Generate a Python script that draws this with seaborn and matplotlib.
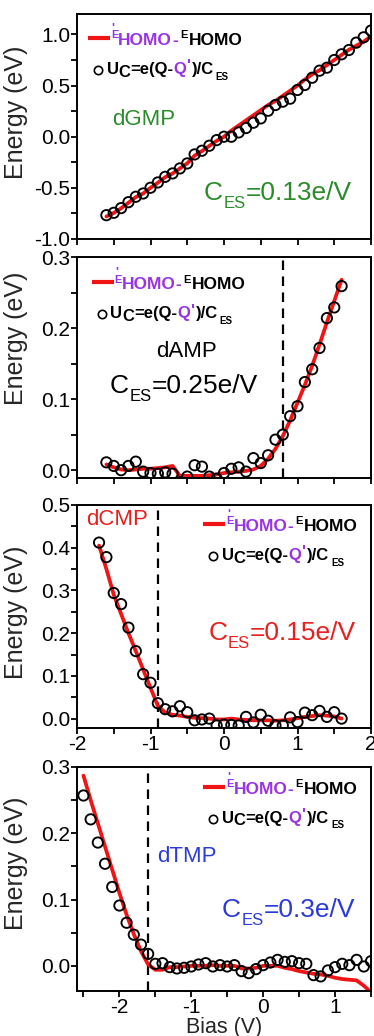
import numpy as np
import matplotlib
matplotlib.use("Agg")
import matplotlib.pyplot as plt
import seaborn as sns
from matplotlib.lines import Line2D
from matplotlib.ticker import MultipleLocator, FuncFormatter
from matplotlib.transforms import offset_copy

# ---------------- data ----------------
# bias grids (V), sampled every 0.1 V
gmp_bias = np.round(np.arange(-1.6, 2.0 + 1e-9, 0.1), 1)
amp_bias = np.round(np.arange(-1.6, 1.6 + 1e-9, 0.1), 1)
cmp_bias = np.round(np.arange(-1.7, 1.6 + 1e-9, 0.1), 1)
tmp_bias = np.round(np.arange(-2.5, 1.5 + 1e-9, 0.1), 1)

# E'HOMO - EHOMO (eV)
gmp_dE = [-0.78, -0.745, -0.70, -0.645, -0.59, -0.555, -0.50, -0.45, -0.395,
          -0.36, -0.31, -0.26, -0.185, -0.14, -0.09, -0.04, 0.0, 0.06, 0.11,
          0.16, 0.21, 0.26, 0.31, 0.35, 0.40, 0.45, 0.50, 0.56, 0.61, 0.65,
          0.70, 0.75, 0.80, 0.85, 0.89, 0.93, 0.98]
amp_dE = [0.008, 0.004, 0.001, 0.000, 0.001, 0.002, 0.002, 0.003, 0.004, 0.006,
          -0.008, -0.008, -0.008, -0.008, -0.007, -0.006, -0.004, -0.003,
          -0.002, -0.001, 0.001, 0.006, 0.016, 0.030, 0.048, 0.070, 0.095,
          0.120, 0.147, 0.177, 0.208, 0.238, 0.268]
cmp_dE = [0.405, 0.35, 0.29, 0.245, 0.20, 0.158, 0.115, 0.072, 0.03, 0.014,
          0.009, 0.007, 0.004, 0.002, 0.001, 0.0, -0.002, -0.002, 0.0, -0.002,
          -0.003, -0.004, -0.004, -0.004, -0.005, -0.004, -0.002, 0.001, 0.004,
          0.006, 0.008, 0.007, 0.005, 0.0]
tmp_dE = [0.287, 0.25, 0.215, 0.18, 0.145, 0.11, 0.077, 0.048, 0.022, 0.002,
          -0.006, -0.006, -0.002, -0.002, -0.001, 0.0, 0.0, 0.0, 0.001, 0.0,
          0.0, 0.0, -0.004, -0.004, -0.003, 0.0, 0.0, 0.0, -0.003, -0.005,
          -0.008, -0.010, -0.012, -0.013, -0.015, -0.018, -0.020, -0.021,
          -0.022, -0.030, -0.040]

# UC = e(Q-Q')/CES (eV)
gmp_uc = [-0.767, -0.744, -0.698, -0.640, -0.587, -0.555, -0.499, -0.447,
          -0.392, -0.359, -0.310, -0.261, -0.173, -0.137, -0.088, -0.033,
          0.000, 0.000, 0.042, 0.085, 0.137, 0.179, 0.254, 0.310, 0.343,
          0.372, 0.457, 0.506, 0.577, 0.646, 0.675, 0.750, 0.806, 0.848,
          0.920, 0.972, 1.038]
amp_uc = [0.011, 0.006, 0.000, 0.006, 0.012, -0.002, -0.004, -0.005, -0.003,
          -0.005, -0.017, -0.009, 0.007, 0.005, -0.009, -0.012, -0.004, 0.002,
          0.004, -0.002, 0.017, 0.010, 0.021, 0.043, 0.050, 0.076, 0.090,
          0.124, 0.142, 0.172, 0.214, 0.229, 0.259]
cmp_uc = [0.412, 0.378, 0.294, 0.268, 0.213, 0.158, 0.104, 0.084, 0.036, 0.022,
          0.017, 0.029, 0.015, -0.004, -0.002, 0.000, -0.016, -0.014, -0.015,
          -0.016, 0.004, -0.009, 0.009, -0.005, -0.016, -0.016, 0.003, -0.008,
          0.014, 0.008, 0.018, 0.004, 0.015, 0.000]
tmp_uc = [0.257, 0.221, 0.186, 0.154, 0.119, 0.091, 0.065, 0.047, 0.032, 0.018,
          0.003, 0.004, -0.002, -0.004, -0.003, -0.001, 0.002, 0.004, -0.001,
          0.001, -0.001, 0.001, -0.008, -0.011, -0.005, 0.001, 0.005, 0.009,
          0.006, 0.007, 0.004, 0.003, -0.014, -0.016, -0.007, -0.002, 0.003,
          0.001, 0.009, -0.001, 0.007]

molecules = ["dGMP", "dAMP", "dCMP", "dTMP"]
ces_labels = ["=0.13e/V", "=0.25e/V", "=0.15e/V", "=0.3e/V"]
threshold_bias = [None, 0.8, -0.9, -1.6]

# ---------------- style ----------------
sns.set_theme(style="ticks")
plt.rcParams["font.family"] = ["Liberation Sans", "DejaVu Sans"]
plt.rcParams["axes.unicode_minus"] = False
plt.rcParams["axes.linewidth"] = 1.4
plt.rcParams["axes.edgecolor"] = "black"

RED = "#f01414"
PURPLE = "#9933e6"
BLACK = "black"
GREEN = "#2a8c2a"
BLUE = "#2b3bd9"
TXT_RED = "#e8201e"
label_colors = [GREEN, BLACK, TXT_RED, BLUE]

fig = plt.figure(figsize=(3.74, 10.36), dpi=100)
W_PX, H_PX = 374, 1036

# panel frames in pixels: (left, top, right, bottom)
frames = [(77, 14, 371, 239), (77, 257, 371, 478),
          (77, 505, 371, 728), (77, 767, 371, 991)]
axes = []
for l, t, r, b in frames:
    axes.append(fig.add_axes([l / W_PX, 1 - b / H_PX, (r - l) / W_PX, (b - t) / H_PX]))

DESC = 0.212  # descent of the font's "lp" box, as a fraction of font size


def rich_text(ax, x, y, pieces, transform):
    """Draw a run of differently styled text pieces sharing one baseline.

    Each piece is (text, size, color, weight, rise_pt, shift_pt)."""
    prev = None
    prev_size = prev_rise = 0.0
    for text, size, color, weight, rise, shift in pieces:
        if prev is None:
            tr = offset_copy(transform, fig=ax.figure, x=shift, y=rise, units="points")
            t = ax.text(x, y, text, transform=tr, fontsize=size, color=color,
                        fontweight=weight, ha="left", va="baseline")
        else:
            dy = rise - prev_rise + DESC * (prev_size - size)
            t = ax.annotate(text, xy=(1, 0), xycoords=prev, xytext=(shift, dy),
                            textcoords="offset points", fontsize=size, color=color,
                            fontweight=weight, ha="left", va="bottom")
        prev, prev_size, prev_rise = t, size, rise
    return prev


def draw_key(ax, x0_px, y0_px, frame):
    """Key with a red line sample and an open-circle sample (pixel anchors)."""
    l, t, r, b = frame
    w, h = r - l, b - t

    def axf(xp, yp):
        return (xp - l) / w, (b - yp) / h

    x1, y1 = axf(x0_px, y0_px)
    x2, _ = axf(x0_px + 22, y0_px)
    ax.add_line(Line2D([x1, x2], [y1, y1], transform=ax.transAxes, color=RED,
                       lw=3.0, solid_capstyle="butt", clip_on=False))
    cx, cy = axf(x0_px + 10, y0_px + 32)
    ax.add_line(Line2D([cx], [cy], transform=ax.transAxes, marker="o", ms=6.0,
                       mfc="none", mec="black", mew=1.2, ls="none", clip_on=False))
    tx, ty = axf(x0_px + 23, y0_px + 6.5)
    rich_text(ax, tx, ty, [
        ("E", 8, PURPLE, "bold", 4.5, 0),
        ("'", 9, PURPLE, "bold", 8.5, -4.8),
        ("HOMO", 12.5, PURPLE, "bold", 0, 2.5),
        ("-", 12.5, PURPLE, "bold", 0, 0),
        ("E", 8, BLACK, "bold", 4.5, 1.5),
        ("HOMO", 12.5, BLACK, "bold", 0, 0.8),
    ], ax.transAxes)
    ux, uy = axf(x0_px + 18.5, y0_px + 36)
    rich_text(ax, ux, uy, [
        ("U", 12, BLACK, "bold", 0, 0),
        ("C", 12, BLACK, "bold", -2.0, 0),
        ("=e(Q-", 12, BLACK, "bold", 0, 0),
        ("Q", 12, PURPLE, "bold", 0, 0),
        ("'", 12, PURPLE, "bold", 2.0, 0.6),
        (")/C", 12, BLACK, "bold", 0, 0.6),
        ("ES", 7, BLACK, "bold", -4.5, 1.2),
    ], ax.transAxes)


series = [(gmp_bias, gmp_dE, gmp_uc), (amp_bias, amp_dE, amp_uc),
          (cmp_bias, cmp_dE, cmp_uc), (tmp_bias, tmp_dE, tmp_uc)]
xlims = [(-2, 2), (-2, 2), (-2, 2), (-2.59, 1.5)]
ylims = [(-1.0, 1.2), (-0.011, 0.3), (-0.022, 0.5), (-0.038, 0.3)]
ysteps = [0.5, 0.1, 0.1, 0.1]
ylabel_y = [0.564, 0.633, 0.52, 0.571]
key_anchor = [(88, 38), (91.7, 282.3), (203.3, 524), (203.3, 786.7)]
name_pos = [(0.118, 0.529), (0.27, 0.571), (0.031, 0.933), (0.272, 0.60)]
ces_pos = [(0.432, 0.173), (0.112, 0.385), (0.447, 0.395), (0.493, 0.332)]

for i, ax in enumerate(axes):
    bias, dE, uc = series[i]
    sns.lineplot(x=bias, y=dE, ax=ax, color=RED, lw=2.7, sort=False,
                 estimator=None, zorder=2)
    sns.scatterplot(x=bias, y=uc, ax=ax, marker="o", s=55, facecolors="none",
                    edgecolor="black", linewidth=1.35, zorder=3)
    if threshold_bias[i] is not None:
        ax.axvline(threshold_bias[i], color="black", lw=1.6,
                   ls=(0, (4.3, 2.9)), zorder=1)

    ax.set_xlim(*xlims[i])
    ax.set_ylim(*ylims[i])
    ax.xaxis.set_major_locator(MultipleLocator(1))
    ax.xaxis.set_minor_locator(MultipleLocator(0.5))
    ax.yaxis.set_major_locator(MultipleLocator(ysteps[i]))
    ax.yaxis.set_minor_locator(MultipleLocator(ysteps[i] / 2))
    ax.yaxis.set_major_formatter(FuncFormatter(lambda v, p: f"{v + 0:.1f}"))
    ax.xaxis.set_major_formatter(FuncFormatter(lambda v, p: f"{v + 0:g}"))
    ax.tick_params(which="both", direction="out", width=1.3, length=4,
                   top=False, right=False, labelsize=15, pad=1, colors="black")
    if i < 2:
        ax.tick_params(axis="x", labelbottom=False)
    for sp in ax.spines.values():
        sp.set_visible(True)
        sp.set_linewidth(1.4)
        sp.set_color("black")

    ax.set_ylabel("Energy (eV)", fontsize=18, labelpad=2)
    ax.yaxis.set_label_coords(-0.167, ylabel_y[i])
    ax.set_xlabel("")

    ax.text(name_pos[i][0], name_pos[i][1], molecules[i], transform=ax.transAxes,
            fontsize=16, color=label_colors[i], ha="left", va="center")
    rich_text(ax, ces_pos[i][0], ces_pos[i][1], [
        ("C", 19, label_colors[i], "normal", 0, 0),
        ("ES", 12, label_colors[i], "normal", -6.0, 0.5),
        (ces_labels[i], 19, label_colors[i], "normal", 0, 0),
    ], ax.transAxes)

    draw_key(ax, key_anchor[i][0], key_anchor[i][1], frames[i])

axes[3].set_xlabel("Bias (V)", fontsize=15.5, labelpad=0)

fig.savefig("out.png", dpi=100, facecolor="white")
